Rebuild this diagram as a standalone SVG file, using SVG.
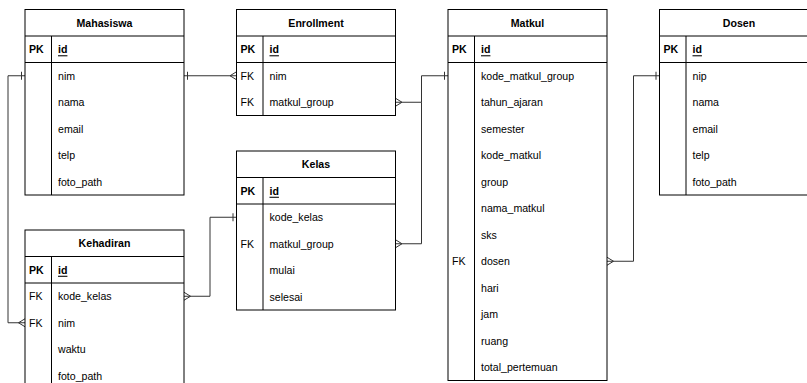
<svg xmlns="http://www.w3.org/2000/svg" width="807" height="383" viewBox="0 0 807 383">
<style>
.box{fill:#fff;stroke:#000;stroke-width:1}
.ln{stroke:#000;stroke-width:1;fill:none}
.t{font-family:"Liberation Sans",Arial,Helvetica,sans-serif;font-size:10.6px;fill:#000;dominant-baseline:central}
.b{font-weight:bold}
.ttl{font-weight:bold;text-anchor:middle}
.u{text-decoration:underline}
.e{stroke:#333;stroke-width:1;fill:none}
</style>
<rect width="807" height="383" fill="#fff"/>
<g id="connectors">
<path class="e" d="M184,75.75 H236.5 M187.5,71.75 V79.75 M230,75.75 L236.5,71.75 M230,75.75 L236.5,79.75"/>
<path class="e" d="M25,75.75 H8 V322.75 H25 M21.5,71.75 V79.75 M18.5,322.75 L25,318.75 M18.5,322.75 L25,326.75"/>
<path class="e" d="M395.5,102.25 H421.5 V75.75 H448 M402,102.25 L395.5,98.25 M402,102.25 L395.5,106.25 M444.5,71.75 V79.75"/>
<path class="e" d="M395.5,243.75 H421.5 V102.25 M402,243.75 L395.5,239.75 M402,243.75 L395.5,247.75"/>
<path class="e" d="M184,296.25 H210 V217.25 H236.5 M190.5,296.25 L184,292.25 M190.5,296.25 L184,300.25 M233,213.25 V221.25"/>
<path class="e" d="M607,261.25 H633.5 V75.75 H659.5 M613.5,261.25 L607,257.25 M613.5,261.25 L607,265.25 M656,71.75 V79.75"/>
</g>
<g id="mahasiswa">
<rect class="box" x="25" y="9.5" width="159" height="185.5"/>
<path class="ln" d="M25,36 H184 M25,62.5 H184 M51.5,36 V195"/>
<text class="t ttl" x="104.5" y="22.75">Mahasiswa</text>
<text class="t b" x="29" y="49.25">PK</text>
<text class="t b u" x="58" y="49.25">id</text>
<text class="t" x="58" y="75.75">nim</text>
<text class="t" x="58" y="102.25">nama</text>
<text class="t" x="58" y="128.75">email</text>
<text class="t" x="58" y="155.25">telp</text>
<text class="t" x="58" y="181.75">foto_path</text>
</g>
<g id="enrollment">
<rect class="box" x="236.5" y="9.5" width="159" height="106"/>
<path class="ln" d="M236.5,36 H395.5 M236.5,62.5 H395.5 M263,36 V115.5"/>
<text class="t ttl" x="316" y="22.75">Enrollment</text>
<text class="t b" x="240.5" y="49.25">PK</text>
<text class="t b u" x="269.5" y="49.25">id</text>
<text class="t" x="240.5" y="75.75">FK</text>
<text class="t" x="269.5" y="75.75">nim</text>
<text class="t" x="240.5" y="102.25">FK</text>
<text class="t" x="269.5" y="102.25">matkul_group</text>
</g>
<g id="matkul">
<rect class="box" x="448" y="9.5" width="159" height="371"/>
<path class="ln" d="M448,36 H607 M448,62.5 H607 M474.5,36 V380.5"/>
<text class="t ttl" x="527.5" y="22.75">Matkul</text>
<text class="t b" x="452" y="49.25">PK</text>
<text class="t b u" x="481" y="49.25">id</text>
<text class="t" x="481" y="75.75">kode_matkul_group</text>
<text class="t" x="481" y="102.25">tahun_ajaran</text>
<text class="t" x="481" y="128.75">semester</text>
<text class="t" x="481" y="155.25">kode_matkul</text>
<text class="t" x="481" y="181.75">group</text>
<text class="t" x="481" y="208.25">nama_matkul</text>
<text class="t" x="481" y="234.75">sks</text>
<text class="t" x="452" y="261.25">FK</text>
<text class="t" x="481" y="261.25">dosen</text>
<text class="t" x="481" y="287.75">hari</text>
<text class="t" x="481" y="314.25">jam</text>
<text class="t" x="481" y="340.75">ruang</text>
<text class="t" x="481" y="367.25">total_pertemuan</text>
</g>
<g id="dosen">
<rect class="box" x="659.5" y="9.5" width="159" height="185.5"/>
<path class="ln" d="M659.5,36 H818.5 M659.5,62.5 H818.5 M686,36 V195"/>
<text class="t ttl" x="739" y="22.75">Dosen</text>
<text class="t b" x="663.5" y="49.25">PK</text>
<text class="t b u" x="692.5" y="49.25">id</text>
<text class="t" x="692.5" y="75.75">nip</text>
<text class="t" x="692.5" y="102.25">nama</text>
<text class="t" x="692.5" y="128.75">email</text>
<text class="t" x="692.5" y="155.25">telp</text>
<text class="t" x="692.5" y="181.75">foto_path</text>
</g>
<g id="kelas">
<rect class="box" x="236.5" y="151" width="159" height="159"/>
<path class="ln" d="M236.5,177.5 H395.5 M236.5,204 H395.5 M263,177.5 V310"/>
<text class="t ttl" x="316" y="164.25">Kelas</text>
<text class="t b" x="240.5" y="190.75">PK</text>
<text class="t b u" x="269.5" y="190.75">id</text>
<text class="t" x="269.5" y="217.25">kode_kelas</text>
<text class="t" x="240.5" y="243.75">FK</text>
<text class="t" x="269.5" y="243.75">matkul_group</text>
<text class="t" x="269.5" y="270.25">mulai</text>
<text class="t" x="269.5" y="296.75">selesai</text>
</g>
<g id="kehadiran">
<rect class="box" x="25" y="230" width="159" height="159"/>
<path class="ln" d="M25,256.5 H184 M25,283 H184 M51.5,256.5 V389"/>
<text class="t ttl" x="104.5" y="243.25">Kehadiran</text>
<text class="t b" x="29" y="269.75">PK</text>
<text class="t b u" x="58" y="269.75">id</text>
<text class="t" x="29" y="296.25">FK</text>
<text class="t" x="58" y="296.25">kode_kelas</text>
<text class="t" x="29" y="322.75">FK</text>
<text class="t" x="58" y="322.75">nim</text>
<text class="t" x="58" y="349.25">waktu</text>
<text class="t" x="58" y="375.75">foto_path</text>
</g>
</svg>
